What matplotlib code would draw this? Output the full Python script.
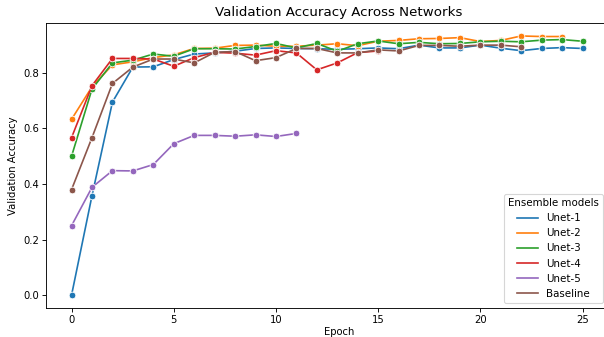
import numpy as np
import matplotlib
matplotlib.use("Agg")
import matplotlib.pyplot as plt
from matplotlib.lines import Line2D

# validation accuracy per epoch
unet1 = [0.0, 0.358, 0.695, 0.821, 0.822, 0.848, 0.868, 0.872, 0.878, 0.888,
         0.89, 0.888, 0.887, 0.885, 0.887, 0.89, 0.887, 0.9, 0.89, 0.89,
         0.9, 0.889, 0.88, 0.888, 0.891, 0.888]
unet2 = [0.633, 0.75, 0.829, 0.84, 0.855, 0.865, 0.888, 0.889, 0.899, 0.9,
         0.896, 0.896, 0.9, 0.905, 0.898, 0.914, 0.917, 0.923, 0.924, 0.927,
         0.913, 0.917, 0.933, 0.931, 0.931]
unet3 = [0.50, 0.742, 0.836, 0.846, 0.868, 0.86, 0.887, 0.887, 0.886, 0.895,
         0.906, 0.89, 0.906, 0.878, 0.905, 0.915, 0.905, 0.91, 0.905, 0.906,
         0.912, 0.914, 0.912, 0.918, 0.92, 0.914]
unet4 = [0.567, 0.754, 0.852, 0.852, 0.85, 0.824, 0.855, 0.874, 0.871, 0.864,
         0.88, 0.872, 0.811, 0.836, 0.873, 0.879]
unet5 = [0.25, 0.388, 0.448, 0.447, 0.47, 0.545, 0.575, 0.575, 0.572, 0.577,
         0.571, 0.582]
baseline = [0.38, 0.567, 0.762, 0.821, 0.85, 0.85, 0.836, 0.874, 0.877, 0.844,
            0.855, 0.888, 0.888, 0.872, 0.872, 0.883, 0.879, 0.899, 0.899, 0.896,
            0.9, 0.9, 0.894]

names = ["Unet-1", "Unet-2", "Unet-3", "Unet-4", "Unet-5", "Baseline"]
series = [unet1, unet2, unet3, unet4, unet5, baseline]
colors = ["#1f77b4", "#ff7f0e", "#2ca02c", "#d62728", "#9467bd", "#8c564b"]

fig = plt.figure(figsize=(604 / 80, 337 / 80), dpi=80)
ax = fig.add_axes([0.0762, 0.086, 0.9305, 0.8457])

for name, vals, c in zip(names, series, colors):
    ax.plot(np.arange(len(vals)), vals, color=c, marker="o", markersize=6,
            markeredgecolor="white", markeredgewidth=0.75, lw=1.5, label=name)

# the reference is cropped on the right, so the title sits a bit right of centre
ax.set_title("Validation Accuracy Across Networks", fontsize=12, x=0.521)
ax.set_xlabel("Epoch", fontsize=9, labelpad=2, x=0.521)
ax.set_ylabel("Validation Accuracy", fontsize=9)
ax.tick_params(labelsize=9, length=3.5, pad=3)

handles = [Line2D([], [], color=c, lw=1.5) for c in colors]
ax.legend(handles, names, title="Ensemble models", loc="lower right",
          fontsize=9.2, title_fontsize=9.2)

fig.savefig("out.png", dpi=80)
